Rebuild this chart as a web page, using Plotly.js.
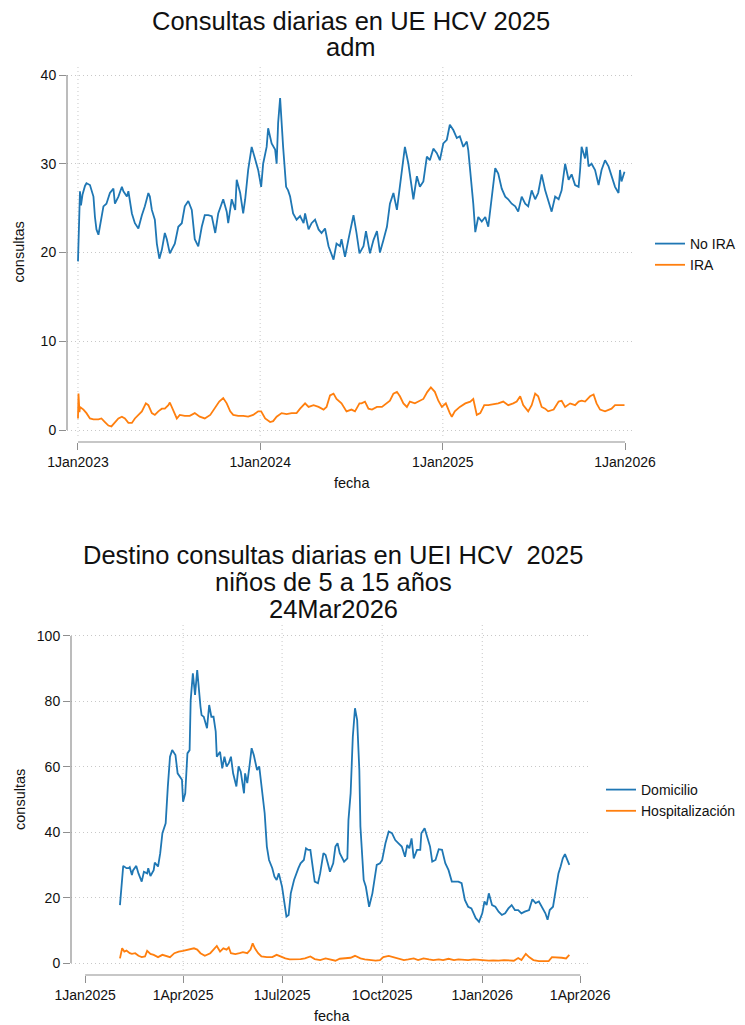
<!DOCTYPE html>
<html>
<head>
<meta charset="utf-8">
<script src="https://cdn.plot.ly/plotly-3.0.1.min.js"></script>
<style>
  html, body { margin: 0; padding: 0; background: #ffffff; }
  #chart { width: 745px; height: 1025px; }
</style>
</head>
<body>
<div id="chart"></div>
<script>
// ---------- DATA ----------
// Top chart: days since 1Jan2023
const topStart = '2023-01-01';
const topDaysNoIRA = [0,2,4,6,9,14,17,24,27,31,34,37,41,44,51,57,64,71,74,81,88,91,98,101,108,114,121,128,134,141,144,148,154,158,163,168,174,178,184,194,201,208,214,221,228,234,241,248,254,261,268,275,281,291,298,301,308,315,318,325,331,335,341,348,355,361,367,371,378,381,388,395,398,401,405,408,411,417,421,425,431,438,445,452,455,462,468,475,482,488,495,502,512,518,525,528,535,542,552,558,564,572,577,585,592,599,605,612,619,625,632,639,645,652,655,662,669,672,679,685,692,699,705,712,719,725,732,739,745,752,759,765,772,779,782,789,792,796,802,809,816,822,829,836,842,849,856,862,869,876,882,889,896,902,909,916,922,929,936,942,949,956,963,969,976,983,989,996,1003,1006,1009,1016,1019,1023,1029,1036,1043,1049,1056,1063,1069,1076,1083,1086,1089,1095];
const topNoIRA = [19.0,23.9,26.9,25.3,26.5,27.5,27.8,27.6,27.0,26.3,24.0,22.6,22.0,22.9,25.2,25.5,26.7,27.2,25.5,26.3,27.4,26.9,26.3,26.9,24.4,23.3,22.7,24.2,25.2,26.7,26.3,24.8,23.7,21.0,19.3,20.3,22.2,21.5,19.9,21.0,22.9,23.3,25.2,25.8,24.8,21.5,20.7,22.9,24.2,24.2,24.1,22.2,24.4,26.0,24.6,23.3,26.0,24.8,28.2,26.7,24.4,26.0,29.3,31.9,30.4,29.3,27.4,30.0,31.9,34.0,32.3,31.6,30.0,34.6,37.4,35.2,31.9,27.4,27.0,26.3,24.4,23.7,24.1,23.3,24.4,22.6,23.3,23.7,22.6,22.2,22.7,20.7,19.2,21.0,20.7,21.5,19.5,21.5,24.2,22.2,19.9,20.7,22.4,19.9,21.4,22.4,20.0,21.4,22.9,25.5,26.7,24.8,27.4,30.4,31.9,30.0,27.4,26.0,28.6,27.4,28.0,30.8,30.4,31.7,31.2,30.4,32.3,32.7,34.4,33.8,32.9,33.1,31.9,32.5,31.5,27.4,25.5,22.3,24.0,23.5,24.0,22.9,26.0,29.5,28.9,27.2,26.3,26.0,25.5,25.2,24.6,26.3,25.5,25.2,27.0,26.0,26.7,28.8,27.0,26.0,24.6,26.3,26.0,27.0,30.0,28.2,28.8,27.6,27.4,29.3,31.9,30.6,31.9,29.7,30.0,29.3,27.6,29.3,30.4,29.7,28.6,27.4,26.7,29.3,28.0,29.1];
const topDaysIRA = [0,1,3,4,11,17,24,31,41,47,54,61,67,74,81,88,94,101,108,114,121,128,136,141,148,154,161,168,174,181,184,191,198,204,214,224,234,244,254,265,275,283,291,298,305,311,321,331,341,351,361,367,375,385,391,398,408,418,428,438,445,455,462,472,482,492,498,505,512,518,528,538,548,555,564,568,575,582,589,599,609,619,625,632,639,645,652,659,665,675,685,692,700,707,715,722,729,737,745,749,755,765,776,786,792,799,806,814,822,832,842,852,862,872,879,886,892,902,909,916,922,929,936,942,953,963,969,976,986,996,1003,1009,1016,1026,1033,1039,1046,1056,1063,1069,1076,1086,1095];
const topIRA = [1.3,4.1,2.0,2.6,2.3,1.9,1.3,1.2,1.2,1.3,0.9,0.5,0.4,0.8,1.3,1.5,1.3,0.8,0.8,1.3,1.7,2.1,3.0,2.8,1.9,1.7,2.1,2.4,2.4,2.8,3.1,2.1,1.3,1.7,1.6,1.6,1.9,1.5,1.3,1.7,2.6,3.2,3.6,3.0,2.1,1.7,1.6,1.6,1.5,1.7,2.1,2.1,1.3,0.9,1.0,1.5,1.9,1.8,1.9,1.9,2.4,3.0,2.6,2.8,2.6,2.3,2.6,3.9,4.1,3.5,3.0,2.1,2.3,2.1,3.0,3.0,3.2,2.4,2.3,2.6,2.6,3.0,3.3,4.1,4.3,3.8,3.0,2.6,3.2,3.0,3.3,3.5,4.3,4.8,4.3,3.3,2.6,3.0,1.9,1.5,2.1,2.6,3.0,3.2,3.5,1.7,1.9,2.8,2.8,2.9,3.0,3.2,2.8,3.0,3.2,3.8,2.8,2.1,2.8,4.1,3.8,2.6,2.4,2.1,2.3,3.2,3.3,2.6,3.0,2.8,3.2,3.3,3.2,3.8,4.0,3.0,2.3,2.1,2.3,2.4,2.8,2.8,2.8];
const topTickVals = ['2023-01-01','2024-01-01','2025-01-01','2026-01-01'];
const topTickText = ['1Jan2023','1Jan2024','1Jan2025','1Jan2026'];
const topGridX = ['2023-01-01','2024-01-01','2025-01-01'];
const topYTicks = [0,10,20,30,40];

// Bottom chart: days since 1Jan2025
const botStart = '2025-01-01';
const botDaysDom = [32,34,35,38,40,41,43,44,47,49,52,54,57,58,60,63,64,67,69,71,74,76,78,80,83,85,87,89,90,92,94,96,97,99,101,103,106,107,109,112,114,116,118,120,121,124,126,128,130,132,134,136,139,141,143,146,147,149,151,153,155,158,160,162,165,167,169,172,174,176,178,181,183,185,187,189,192,194,196,198,201,203,205,207,209,211,214,216,219,221,223,225,228,230,232,234,238,241,242,244,246,248,250,252,253,256,258,261,264,266,268,271,273,276,279,282,285,288,291,294,296,298,300,302,305,308,309,312,314,317,319,322,325,328,331,334,337,340,343,346,349,352,355,359,362,365,367,369,371,374,377,380,383,386,389,392,395,398,401,404,408,411,414,417,420,423,425,427,430,432,435,437,439,441,443,445];
const botDom = [17.7,24.4,29.7,29.0,29.0,29.3,26.9,28.3,29.7,27.4,24.9,27.9,27.4,29.0,26.6,28.4,30.7,29.5,33.6,39.7,42.7,54.0,63.1,65.1,63.6,58.0,57.0,56.0,49.3,51.9,64.1,65.1,80.4,88.6,82.0,89.6,78.4,75.8,75.3,71.8,78.9,75.3,75.3,70.8,63.1,64.6,59.5,63.1,60.1,61.1,63.1,58.0,54.0,60.1,58.5,51.9,58.0,55.0,60.1,65.7,63.6,59.0,60.1,55.0,45.8,35.6,31.5,29.0,26.4,25.4,27.4,23.3,19.3,14.2,14.7,21.3,25.4,27.4,29.0,30.5,31.5,35.1,34.6,34.6,29.5,24.9,24.4,27.4,33.6,33.0,30.5,27.9,30.5,35.6,36.6,33.6,31.0,32.0,43.7,51.9,69.2,77.9,74.3,59.0,41.7,25.4,23.3,17.2,21.3,26.4,30.0,30.5,31.5,36.6,40.2,39.7,37.6,36.6,35.6,32.5,36.1,35.1,38.1,32.0,34.6,34.6,39.7,41.2,39.2,35.6,31.0,31.5,34.8,34.6,30.5,28.4,24.9,24.9,24.9,24.4,19.3,17.2,16.7,13.7,12.6,15.2,18.8,17.7,21.3,17.7,17.2,15.7,14.7,15.2,16.7,17.7,16.2,16.2,15.2,15.7,16.2,19.5,18.3,18.8,17.2,15.2,13.2,16.2,17.2,21.8,27.4,29.5,32.0,33.3,31.5,30.0];
const botDaysHosp = [32,34,36,38,41,43,46,49,52,55,57,60,63,67,71,74,78,82,86,90,95,100,103,106,110,115,118,121,124,127,130,132,134,138,142,145,149,152,154,156,159,162,167,172,176,179,184,188,193,198,202,207,211,216,221,225,230,234,239,244,248,253,257,262,267,271,274,279,283,288,293,297,302,306,311,316,320,325,329,334,339,343,348,352,357,362,366,371,375,380,385,389,394,398,401,405,408,412,417,421,426,429,434,438,442,445];
const botHosp = [1.4,4.5,3.5,3.8,3.0,2.8,3.0,2.2,1.8,2.0,3.7,2.8,2.5,1.8,2.5,2.2,1.8,3.0,3.5,3.7,4.1,4.5,4.1,3.0,2.2,3.0,4.1,5.2,3.5,4.5,4.1,4.8,3.0,2.7,3.0,3.3,3.0,4.1,6.0,4.5,3.0,2.0,1.8,1.8,2.5,2.0,1.4,1.1,1.1,1.2,1.4,2.0,1.2,0.9,1.4,1.1,0.7,1.3,1.4,1.6,2.2,1.4,1.1,0.9,0.7,0.9,1.8,2.2,1.8,1.4,0.9,1.1,1.4,0.9,1.4,1.1,0.9,1.1,0.9,1.3,0.9,1.1,1.0,0.9,1.1,0.9,0.7,0.7,0.8,0.7,0.9,0.8,0.7,1.5,0.9,2.8,1.8,0.9,0.6,0.6,0.6,1.8,1.8,1.6,1.4,2.5];
const botTickVals = ['2025-01-01','2025-04-01','2025-07-01','2025-10-01','2026-01-01','2026-04-01'];
const botTickText = ['1Jan2025','1Apr2025','1Jul2025','1Oct2025','1Jan2026','1Apr2026'];
const botGridX = ['2025-04-01','2025-07-01','2025-10-01','2026-01-01'];
const botYTicks = [0,20,40,60,80,100];

// ---------- helpers ----------
function toDates(base, days) {
  const t0 = Date.parse(base + 'T00:00:00Z');
  return days.map(d => new Date(t0 + d * 86400000).toISOString().slice(0, 10));
}
const W = 745, H = 1025;
const fx = p => p / W;
const fy = p => 1 - p / H;

const FONT = 'Liberation Sans, Arimo, Arial, sans-serif';
const TXT = '#111111';
const AXC = '#8f8f8f';
const GRID = '#c8c8c8';
const GRIDDASH = '1px,3px';
const BLUE = '#1f77b4';
const ORANGE = '#ff7f0e';
const LW = 1.8;

const traces = [
  { type: 'scatter', mode: 'lines', name: 'No IRA', x: toDates(topStart, topDaysNoIRA), y: topNoIRA,
    xaxis: 'x', yaxis: 'y', legend: 'legend', line: { color: BLUE, width: LW } },
  { type: 'scatter', mode: 'lines', name: 'IRA', x: toDates(topStart, topDaysIRA), y: topIRA,
    xaxis: 'x', yaxis: 'y', legend: 'legend', line: { color: ORANGE, width: LW } },
  { type: 'scatter', mode: 'lines', name: 'Domicilio', x: toDates(botStart, botDaysDom), y: botDom,
    xaxis: 'x2', yaxis: 'y2', legend: 'legend2', line: { color: BLUE, width: LW } },
  { type: 'scatter', mode: 'lines', name: 'Hospitalización', x: toDates(botStart, botDaysHosp), y: botHosp,
    xaxis: 'x2', yaxis: 'y2', legend: 'legend2', line: { color: ORANGE, width: LW } }
];

function xAxis(domain, range, pos, vals, text) {
  return {
    type: 'date', domain: domain, range: range, anchor: 'free', position: pos,
    tickmode: 'array', tickvals: vals, ticktext: text,
    ticks: 'outside', ticklen: 7, tickwidth: 1, tickcolor: AXC,
    showline: false, showgrid: false, zeroline: false,
    tickfont: { family: FONT, size: 14, color: TXT },
    automargin: false, fixedrange: true
  };
}
function yAxis(domain, range, anchor, vals) {
  return {
    domain: domain, range: range, anchor: anchor,
    tickmode: 'array', tickvals: vals,
    ticks: 'outside', ticklen: 7, tickwidth: 1, tickcolor: AXC,
    showline: false, showgrid: true, gridcolor: GRID, gridwidth: 1, griddash: GRIDDASH, zeroline: false,
    tickfont: { family: FONT, size: 14, color: TXT },
    automargin: false, fixedrange: true
  };
}

const shapes = [];
// axis lines spanning the tick range
shapes.push({ type: 'line', xref: 'x', yref: 'paper', x0: topTickVals[0], x1: topTickVals[topTickVals.length - 1],
  y0: fy(442), y1: fy(442), line: { color: AXC, width: 1.2 } });
shapes.push({ type: 'line', xref: 'x domain', yref: 'y', x0: 0, x1: 0,
  y0: topYTicks[0], y1: topYTicks[topYTicks.length - 1], line: { color: AXC, width: 1.2 } });
shapes.push({ type: 'line', xref: 'x2', yref: 'paper', x0: botTickVals[0], x1: botTickVals[botTickVals.length - 1],
  y0: fy(975), y1: fy(975), line: { color: AXC, width: 1.2 } });
shapes.push({ type: 'line', xref: 'x2 domain', yref: 'y2', x0: 0, x1: 0,
  y0: botYTicks[0], y1: botYTicks[botYTicks.length - 1], line: { color: AXC, width: 1.2 } });
// vertical dotted grid lines
topGridX.forEach(d => shapes.push({ type: 'line', layer: 'below', xref: 'x', yref: 'y domain', x0: d, x1: d, y0: 0, y1: 1,
  line: { color: GRID, width: 1, dash: GRIDDASH } }));
botGridX.forEach(d => shapes.push({ type: 'line', layer: 'below', xref: 'x2', yref: 'y2 domain', x0: d, x1: d, y0: 0, y1: 1,
  line: { color: GRID, width: 1, dash: GRIDDASH } }));

const titleFont = { family: FONT, size: 25.5, color: TXT };
const axTitleFont = { family: FONT, size: 14.5, color: TXT };
const base = { xref: 'paper', yref: 'paper', xanchor: 'center', yanchor: 'middle', showarrow: false };
const annotations = [
  { text: 'Consultas diarias en UE HCV 2025', x: fx(351), y: fy(21), font: titleFont },
  { text: 'adm', x: fx(351), y: fy(47), font: titleFont },
  { text: 'Destino consultas diarias en UEI HCV  2025', x: fx(333), y: fy(555), font: titleFont },
  { text: 'niños de 5 a 15 años', x: fx(333), y: fy(582), font: titleFont },
  { text: '24Mar2026', x: fx(333), y: fy(609), font: titleFont },
  // axis titles
  { text: 'consultas', x: fx(18.5), y: fy(252), textangle: -90, font: axTitleFont },
  { text: 'fecha', x: fx(352), y: fy(483), font: axTitleFont },
  { text: 'consultas', x: fx(20), y: fy(800), textangle: -90, font: axTitleFont },
  { text: 'fecha', x: fx(332), y: fy(1016), font: axTitleFont }
].map(a => Object.assign({}, base, a));

const layout = {
  width: W, height: H,
  margin: { l: 0, r: 0, t: 0, b: 0, pad: 0 },
  paper_bgcolor: '#ffffff', plot_bgcolor: '#ffffff',
  font: { family: FONT, color: TXT },
  xaxis: xAxis([fx(67), fx(633)], ['2022-12-10', '2026-01-17'], fy(442), topTickVals, topTickText),
  yaxis: yAxis([fy(436), fy(67)], [-0.676, 40.901], 'x', topYTicks),
  xaxis2: xAxis([fx(71), fx(590)], ['2024-12-19', '2026-04-10'], fy(975), botTickVals, botTickText),
  yaxis2: yAxis([fy(970), fy(625)], [-2.14, 103.36], 'x2', botYTicks),
  legend: { x: fx(650), y: fy(228), xanchor: 'left', yanchor: 'top', bgcolor: 'rgba(0,0,0,0)',
    font: { family: FONT, size: 14, color: TXT }, tracegroupgap: 0 },
  legend2: { x: fx(601), y: fy(774), xanchor: 'left', yanchor: 'top', bgcolor: 'rgba(0,0,0,0)',
    font: { family: FONT, size: 14, color: TXT }, tracegroupgap: 0 },
  shapes: shapes,
  annotations: annotations,
  showlegend: true,
  hovermode: false
};

Plotly.newPlot('chart', traces, layout, { staticPlot: true, displayModeBar: false });
</script>
</body>
</html>
